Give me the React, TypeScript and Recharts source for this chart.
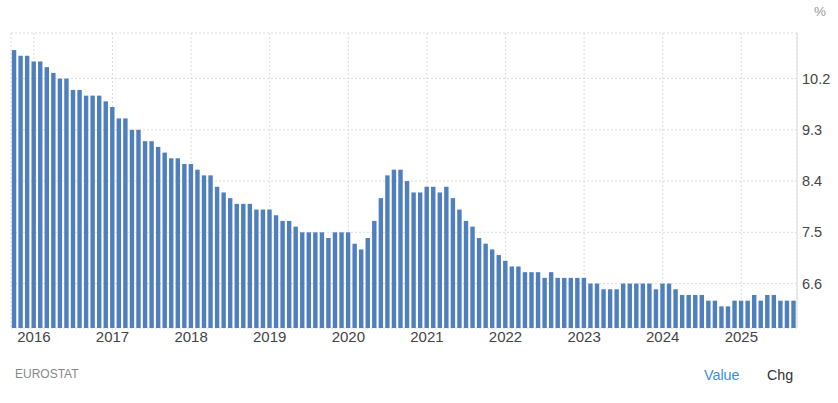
import React from "react";
import { BarChart, Bar, XAxis, YAxis, CartesianGrid } from "recharts";

// Euro area unemployment rate, monthly, Oct 2015 – Sep 2025 (%)
const startYear = 2015;
const startMonth = 10;
const values: number[] = [
  10.7, 10.6, 10.6,
  10.5, 10.5, 10.4, 10.3, 10.2, 10.2, 10.0, 10.0, 9.9, 9.9, 9.9, 9.8,
  9.7, 9.5, 9.5, 9.3, 9.3, 9.1, 9.1, 9.0, 8.9, 8.8, 8.8, 8.7,
  8.7, 8.6, 8.5, 8.5, 8.3, 8.2, 8.1, 8.0, 8.0, 8.0, 7.9, 7.9,
  7.9, 7.8, 7.7, 7.7, 7.6, 7.5, 7.5, 7.5, 7.5, 7.4, 7.5, 7.5,
  7.5, 7.3, 7.2, 7.4, 7.7, 8.1, 8.5, 8.6, 8.6, 8.4, 8.2, 8.2,
  8.3, 8.3, 8.2, 8.3, 8.1, 7.9, 7.7, 7.6, 7.4, 7.3, 7.2, 7.1,
  7.0, 6.9, 6.9, 6.8, 6.8, 6.8, 6.7, 6.8, 6.7, 6.7, 6.7, 6.7,
  6.7, 6.6, 6.6, 6.5, 6.5, 6.5, 6.6, 6.6, 6.6, 6.6, 6.6, 6.5,
  6.6, 6.6, 6.5, 6.4, 6.4, 6.4, 6.4, 6.3, 6.3, 6.2, 6.2, 6.3,
  6.3, 6.3, 6.4, 6.3, 6.4, 6.4, 6.3, 6.3, 6.3,
];
const yearLabels = ["2016", "2017", "2018", "2019", "2020", "2021", "2022", "2023", "2024", "2025"];
const yTicks = [6.6, 7.5, 8.4, 9.3, 10.2, 11.0];
const yDomain: [number, number] = [5.82, 11.0];

const monthKeys = values.map((_, i) => {
  const m0 = startMonth - 1 + i;
  const y = startYear + Math.floor(m0 / 12);
  const m = (m0 % 12) + 1;
  return `${y}-${String(m).padStart(2, "0")}`;
});
const data = values.map((v, i) => ({ month: monthKeys[i], value: v }));
const xTicks = yearLabels.map((y) => `${y}-01`);

const FONT = "Arial, 'Liberation Sans', sans-serif";
const BAR_W = 4.4;

const BarShape = (props: any) => {
  const { x, y, width, height, fill } = props;
  if (height == null || height <= 0) return null;
  const cx = x + width / 2;
  return <rect x={cx - BAR_W / 2} y={y} width={BAR_W} height={height} fill={fill} />;
};

export default function App() {
  return (
    <div
      style={{
        position: "absolute",
        left: 0,
        top: 0,
        width: 838,
        height: 403,
        background: "#ffffff",
        fontFamily: FONT,
        overflow: "hidden",
      }}
    >
      <BarChart
        width={838}
        height={403}
        data={data}
        margin={{ top: 33, right: 0, bottom: 0, left: 11 }}
        barCategoryGap="16%"
      >
        <CartesianGrid stroke="#dddddd" strokeDasharray="2 2" />
        <XAxis
          dataKey="month"
          ticks={xTicks}
          interval={0}
          tickFormatter={(v: string) => v.slice(0, 4)}
          axisLine={false}
          tickLine={false}
          tickSize={0}
          tickMargin={3}
          height={75}
          tick={{ fill: "#444", fontSize: 15, fontFamily: FONT }}
        />
        <YAxis
          orientation="right"
          type="number"
          domain={yDomain}
          ticks={yTicks}
          allowDataOverflow
          interval={0}
          tickFormatter={(v: number) => (v >= 11 ? "" : v.toFixed(1))}
          width={41}
          axisLine={{ stroke: "#dcdcdc" }}
          tickLine={false}
          tickSize={0}
          tickMargin={5}
          tick={{ fill: "#444", fontSize: 14.5, fontFamily: FONT }}
        />
        <YAxis
          yAxisId="left"
          orientation="left"
          type="number"
          domain={yDomain}
          width={0}
          tick={false}
          tickLine={false}
          axisLine={{ stroke: "#e3e3e3" }}
        />
        <Bar dataKey="value" fill="#4f7fbd" isAnimationActive={false} shape={BarShape} />
      </BarChart>
      <div
        style={{
          position: "absolute",
          left: 814,
          top: 4,
          fontSize: 13.5,
          color: "#999",
          lineHeight: "16px",
        }}
      >
        %
      </div>
      <div
        style={{
          position: "absolute",
          left: 15,
          top: 367,
          fontSize: 12,
          color: "#888",
          lineHeight: "14px",
        }}
      >
        EUROSTAT
      </div>
      <div
        style={{
          position: "absolute",
          left: 704,
          top: 367,
          fontSize: 14.3,
          color: "#3a8fd9",
          lineHeight: "16px",
        }}
      >
        Value
      </div>
      <div
        style={{
          position: "absolute",
          left: 767,
          top: 367,
          fontSize: 14.3,
          color: "#333",
          lineHeight: "16px",
        }}
      >
        Chg
      </div>
    </div>
  );
}
